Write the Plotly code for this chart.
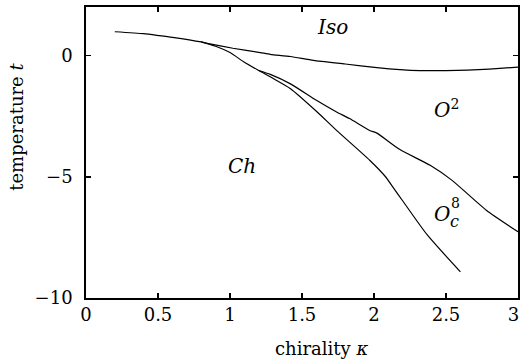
import plotly.graph_objects as go

# Iso boundary (upper line)
iso_k = [0.2, 0.4, 0.51, 0.6, 0.8, 0.86, 1.02, 1.21, 1.28, 1.42, 1.58, 1.8, 2.02, 2.18, 2.32, 2.5, 2.65, 2.8, 3.0]
iso_t = [0.98, 0.9, 0.82, 0.75, 0.56, 0.48, 0.3, 0.12, 0.05, -0.04, -0.2, -0.35, -0.5, -0.58, -0.62, -0.62, -0.6, -0.56, -0.48]

# Ch boundary (lower line, ends at 2.6)
ch_k = [0.8, 0.9, 1.0, 1.1, 1.2, 1.3, 1.42, 1.6, 1.74, 1.97, 2.08, 2.13, 2.2, 2.37, 2.6]
ch_t = [0.56, 0.38, 0.12, -0.28, -0.62, -0.95, -1.37, -2.3, -3.09, -4.32, -5.0, -5.42, -6.0, -7.4, -8.92]

# O2 / O8c boundary
o_k = [1.2, 1.28, 1.42, 1.6, 1.74, 1.83, 1.97, 2.02, 2.18, 2.39, 2.54, 2.78, 3.0]
o_t = [-0.62, -0.78, -1.17, -1.85, -2.33, -2.6, -3.09, -3.2, -3.88, -4.53, -5.14, -6.38, -7.27]

x_ticks = [0, 0.5, 1, 1.5, 2, 2.5, 3]
x_ticklabels = ["0", "0.5", "1", "1.5", "2", "2.5", "3\u2002"]
y_ticks = [0, -5, -10]
y_ticklabels = ["0", "\u22125", "\u221210"]

FONT = "DejaVu Serif"

fig = go.Figure()
for kk, tt in [(iso_k, iso_t), (ch_k, ch_t), (o_k, o_t)]:
    fig.add_trace(go.Scatter(x=kk, y=tt, mode="lines", line=dict(color="black", width=1.2, shape="spline", smoothing=0.6), showlegend=False, hoverinfo="skip", cliponaxis=False))

axis_common = dict(showline=True, linecolor="black", linewidth=1.8, mirror="ticks", ticks="inside", ticklen=5, tickwidth=1.5, tickcolor="black", showgrid=False, zeroline=False, automargin=False, ticklabeloverflow="allow", tickfont=dict(family=FONT, size=18, color="black"))

fig.update_xaxes(range=[0, 3], tickvals=x_ticks, ticktext=x_ticklabels, **axis_common)
fig.update_yaxes(range=[-10, 2], tickvals=y_ticks, ticktext=y_ticklabels, ticklabelstandoff=8, **axis_common)

def ann(text, x, y, size=20, xref="x", yref="y", angle=0):
    fig.add_annotation(text=text, x=x, y=y, xref=xref, yref=yref, showarrow=False, textangle=angle, font=dict(family=FONT, size=size, color="black"), xanchor="center", yanchor="middle")

ann("<i>Iso</i>", 1.71, 1.17)
ann("<i>Ch</i>", 1.08, -4.57)
ann("<i>O</i><sup>2</sup>", 2.5, -2.2)
ann("<i>O</i>", 2.47, -6.52)
ann("8", 2.565, -6.08, size=14)
ann("<i>c</i>", 2.56, -6.85, size=16)

ann("chirality <i>κ</i>", 0.546, -0.172, size=18, xref="paper", yref="paper")
ann("temperature <i>t</i>", -0.16, 0.588, size=18, xref="paper", yref="paper", angle=-90)

fig.update_layout(width=521, height=362, margin=dict(l=86, r=3, t=7, b=64, autoexpand=False), plot_bgcolor="white", paper_bgcolor="white")

fig.write_html("out.html", config={"displayModeBar": False, "staticPlot": True}, post_script="document.body.style.margin='0';document.body.style.overflow='hidden';")
